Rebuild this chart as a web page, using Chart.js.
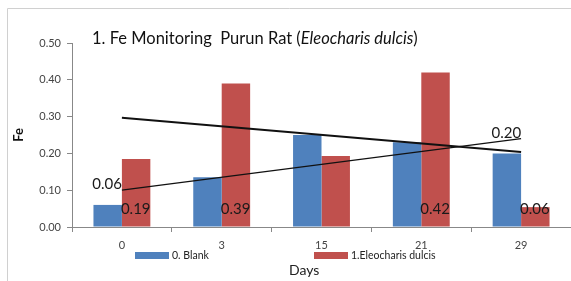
<!DOCTYPE html>
<html>
<head>
<meta charset="utf-8">
<script src="https://cdn.jsdelivr.net/npm/chart.js@4"></script>
<style>
  html, body { margin: 0; padding: 0; background: #fff; }
  #wrap { width: 571px; height: 281px; position: relative; }
</style>
</head>
<body>
<div id="wrap"><canvas id="feChart" width="571" height="281"></canvas></div>
<script>
// Fe monitoring data
const days = ['0', '3', '15', '21', '29'];
const blankFe = [0.06, 0.135, 0.25, 0.23, 0.20];
const dulcisFe = [0.185, 0.39, 0.193, 0.42, 0.054];
// trend lines: value at first and last day
const blankTrend = [0.10, null, null, null, 0.24];
const dulcisTrend = [0.297, null, null, null, 0.204];
// value labels as they sit in the original
const blankLabels = ['0.06', '', '', '', '0.20'];
const dulcisLabels = ['0.19', '0.39', '', '0.42', '0.06'];
const yTicks = [0, 0.1, 0.2, 0.3, 0.4, 0.5];

const BLUE = '#4F81BD';
const RED = '#C0504D';
const FONT = 'Lato, "Open Sans", sans-serif';

const decor = {
  id: 'decor',
  afterDatasetsDraw(chart) {
    const ctx = chart.ctx;
    const x = chart.scales.x, y = chart.scales.y;
    ctx.save();
    ctx.font = '15px ' + FONT;
    ctx.fillStyle = '#1a1a1a';
    ctx.textBaseline = 'middle';
    // blank labels: right-aligned near the trend line ends
    blankLabels.forEach((t, i) => {
      if (!t) return;
      ctx.textAlign = 'right';
      const v = i === 0 ? blankTrend[0] : blankTrend[4];
      ctx.fillText(t, x.getPixelForValue(i), y.getPixelForValue(v) - 6);
    });
    // dulcis labels: sitting low on the red bars
    dulcisLabels.forEach((t, i) => {
      if (!t) return;
      ctx.textAlign = 'left';
      ctx.fillText(t, x.getPixelForValue(i) - 1, y.getPixelForValue(0.048));
    });
    ctx.restore();
  },
  afterDraw(chart) {
    const ctx = chart.ctx;
    ctx.save();
    // outer frame
    ctx.strokeStyle = '#d0d0d0';
    ctx.lineWidth = 1;
    ctx.beginPath();
    ctx.moveTo(7.5, 281);
    ctx.lineTo(7.5, 8.5);
    ctx.lineTo(571, 8.5);
    ctx.stroke();

    // title with italic species name
    ctx.textBaseline = 'alphabetic';
    ctx.textAlign = 'left';
    ctx.fillStyle = '#111';
    let tx = 92;
    const parts = [['1. Fe Monitoring  Purun Rat (', ''], ['Eleocharis dulcis', 'italic '], [')', '']];
    parts.forEach(([s, st]) => {
      ctx.font = st + '16.5px ' + FONT;
      ctx.fillText(s, tx, 44);
      tx += ctx.measureText(s).width;
    });

    // y axis title
    ctx.save();
    ctx.translate(19, 135);
    ctx.rotate(-Math.PI / 2);
    ctx.font = 'bold 13px ' + FONT;
    ctx.textAlign = 'center';
    ctx.textBaseline = 'middle';
    ctx.fillText('Fe', 0, 0);
    ctx.restore();

    // x axis title
    ctx.font = '14px ' + FONT;
    ctx.fillStyle = '#222';
    ctx.textAlign = 'left';
    ctx.textBaseline = 'middle';
    ctx.fillText('Days', 289, 270);

    // legend for the two bar series
    const items = chart.data.datasets.filter(d => d.type === 'bar');
    const pos = [135, 314];
    ctx.font = '10.5px ' + FONT;
    items.forEach((d, i) => {
      ctx.fillStyle = d.backgroundColor;
      ctx.fillRect(pos[i], 252, 34, 7);
      ctx.fillStyle = '#222';
      ctx.fillText(d.label, pos[i] + 37, 256);
    });
    ctx.restore();
  }
};

new Chart(document.getElementById('feChart'), {
  data: {
    labels: days,
    datasets: [
      { type: 'line', label: 'trend dulcis', data: dulcisTrend, spanGaps: true,
        borderColor: '#111', borderWidth: 2, pointRadius: 0, order: 0 },
      { type: 'line', label: 'trend blank', data: blankTrend, spanGaps: true,
        borderColor: '#111', borderWidth: 1.3, pointRadius: 0, order: 0 },
      { type: 'bar', label: '0. Blank', data: blankFe, backgroundColor: BLUE,
        categoryPercentage: 0.57, barPercentage: 1, order: 1 },
      { type: 'bar', label: '1.Eleocharis dulcis', data: dulcisFe, backgroundColor: RED,
        categoryPercentage: 0.57, barPercentage: 1, order: 1 }
    ]
  },
  options: {
    responsive: false,
    animation: false,
    layout: { padding: { top: 43, right: 0, bottom: 0, left: 0 } },
    plugins: {
      legend: { display: false },
      tooltip: { enabled: false }
    },
    scales: {
      x: {
        offset: true,
        grid: { display: true, offset: true, drawOnChartArea: false, tickLength: 5, color: '#888' },
        border: { color: '#888' },
        ticks: { color: '#444', font: { family: FONT, size: 11 }, padding: 7 },
        afterFit: s => { s.height = 54; }
      },
      y: {
        min: 0,
        max: 0.5,
        afterBuildTicks: s => { s.ticks = yTicks.map(v => ({ value: v })); },
        grid: { display: true, drawOnChartArea: false, tickLength: 5, color: '#888' },
        border: { color: '#888' },
        ticks: { color: '#444', font: { family: FONT, size: 11 }, padding: 6,
          callback: v => v.toFixed(2) },
        afterFit: s => { s.width = 72; }
      }
    }
  },
  plugins: [decor]
});
</script>
</body>
</html>
